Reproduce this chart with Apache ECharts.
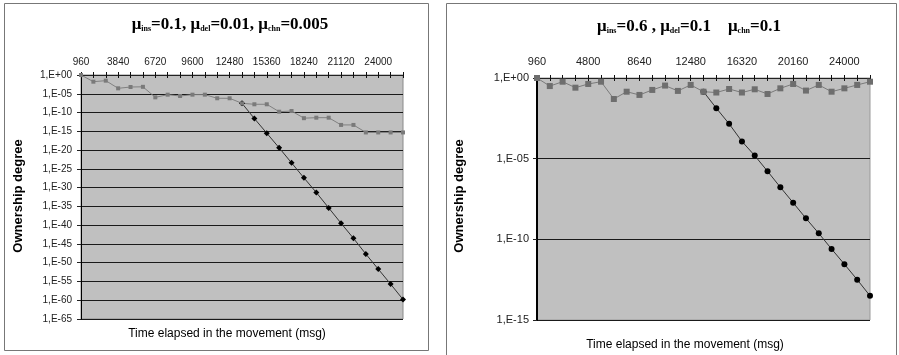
<!DOCTYPE html>
<html>
<head>
<meta charset="utf-8">
<script src="https://cdn.jsdelivr.net/npm/echarts@6/dist/echarts.min.js"></script>
<style>
html,body{margin:0;padding:0;background:#fff;}
#c{width:899px;height:355px;}
</style>
</head>
<body>
<div id="c"></div>
<script>
// Time categories (msg)
const categories = [960,1920,2880,3840,4800,5760,6720,7680,8640,9600,10560,11520,12480,13440,14400,15360,16320,17280,18240,19200,20160,21120,22080,23040,24000,24960,25920];

// Left panel: ownership degree as decimal exponent (value = 10^x), plotted on a decade axis
const leftGrayLog = [0,-1.78,-1.51,-3.55,-3.2,-3.15,-5.95,-5.24,-5.6,-5.24,-5.24,-6.2,-6.2,-7.55,-7.8,-7.8,-9.78,-9.59,-11.5,-11.37,-11.37,-13.3,-13.3,-15.3,-15.3,-15.3,-15.3];
const leftBlackLog = [null,null,null,null,null,null,null,null,null,null,null,null,null,-7.55,-11.6,-15.5,-19.4,-23.4,-27.4,-31.3,-35.4,-39.5,-43.5,-47.7,-51.7,-55.7,-59.8];

// Right panel: ownership degree as decimal exponent
const rightGrayLog = [0,-0.5,-0.23,-0.6,-0.37,-0.23,-1.3,-0.85,-1.05,-0.74,-0.47,-0.8,-0.43,-0.85,-0.9,-0.68,-0.9,-0.7,-0.99,-0.64,-0.37,-0.78,-0.43,-0.85,-0.64,-0.43,-0.23];
const rightBlackLog = [null,null,null,null,null,null,null,null,null,null,null,null,null,-0.85,-1.87,-2.84,-3.93,-4.81,-5.78,-6.77,-7.73,-8.7,-9.63,-10.6,-11.54,-12.5,-13.5];

const leftTitle = '{m|μ}{s|ins}{m|=0.1, μ}{s|del}{m|=0.01, μ}{s|chn}{m|=0.005}';
const rightTitle = '{m|μ}{s|ins}{m|=0.6 , μ}{s|del}{m|=0.1    μ}{s|chn}{m|=0.1}';
const yName = 'Ownership degree';
const xName = 'Time elapsed in the movement (msg)';

const fmt = v => {
  const e = Math.round(v);
  return '1,E' + (e < 0 ? '-' : '+') + String(Math.abs(e)).padStart(2, '0');
};
const sans = 'Liberation Sans, Arial, sans-serif';
const serif = 'Liberation Serif, Times New Roman, serif';
const titleRich = {
  m: {fontFamily: serif, fontSize: 17, color: '#000'},
  s: {fontFamily: serif, fontSize: 8, color: '#000', verticalAlign: 'bottom', lineHeight: 13}
};

function xAxes(gridIndex, labelInterval, margin, fontSize) {
  return [{
    type: 'category', gridIndex: gridIndex, position: 'top', boundaryGap: false,
    data: categories,
    axisLine: {lineStyle: {color: '#222', width: 1}},
    axisTick: {show: true, interval: 0, length: 3, inside: false, lineStyle: {color: '#111'}},
    axisLabel: {interval: labelInterval, fontFamily: sans, fontSize: fontSize, color: '#222', margin: margin},
    splitLine: {show: false}
  }, {
    type: 'category', gridIndex: gridIndex, position: 'top', boundaryGap: false,
    data: categories,
    axisLine: {show: false},
    axisTick: {show: true, interval: 0, length: 3, inside: true, lineStyle: {color: '#111'}},
    axisLabel: {show: false},
    splitLine: {show: false}
  }];
}
function yAxis(gridIndex, minV, axisW, margin, fontSize) {
  return {
    type: 'value', gridIndex: gridIndex, min: minV, max: 0, interval: 5,
    axisLine: {show: true, onZero: false, lineStyle: {color: '#000', width: axisW}},
    axisTick: {show: true, length: 4, lineStyle: {color: '#222'}},
    axisLabel: {formatter: fmt, fontFamily: sans, fontSize: fontSize, color: '#222', margin: margin,
                showMinLabel: true, showMaxLabel: true, hideOverlap: false},
    splitLine: {show: true, lineStyle: {color: '#1a1a1a', width: 1.2}}
  };
}
const gridBase = {show: true, backgroundColor: '#c0c0c0', containLabel: false, outerBoundsMode: 'none'};

const chart = echarts.init(document.getElementById('c'), null, {renderer: 'canvas'});
chart.setOption({
  animation: false,
  backgroundColor: '#fff',
  title: [
    {text: leftTitle, left: 225, top: 11, textAlign: 'center', textStyle: {rich: titleRich}},
    {text: rightTitle, left: 684, top: 13, textAlign: 'center', textStyle: {rich: titleRich}}
  ],
  grid: [
    Object.assign({left: 81, top: 75, width: 322, height: 244, borderColor: '#8a8a8a', borderWidth: 1}, gridBase),
    Object.assign({left: 537, top: 78, width: 333, height: 242, borderColor: '#9a9a9a', borderWidth: 1}, gridBase)
  ],
  xAxis: [].concat(xAxes(0, 2, 8, 10), xAxes(1, 3, 11, 11)),
  yAxis: [yAxis(0, -65, 1, 9, 10), yAxis(1, -15, 2, 8, 11)],
  graphic: [
    {type: 'rect', shape: {x: 4.5, y: 3.5, width: 424, height: 347}, style: {fill: 'none', stroke: '#777', lineWidth: 1}, silent: true, z: -1},
    {type: 'rect', shape: {x: 446.5, y: 3.5, width: 450, height: 360}, style: {fill: 'none', stroke: '#777', lineWidth: 1}, silent: true, z: -1},
    {type: 'text', x: 18, y: 196, rotation: Math.PI / 2, style: {text: yName, font: 'bold 13px ' + sans, fill: '#000', align: 'center', verticalAlign: 'middle'}},
    {type: 'text', x: 459, y: 196, rotation: Math.PI / 2, style: {text: yName, font: 'bold 13px ' + sans, fill: '#000', align: 'center', verticalAlign: 'middle'}},
    {type: 'text', x: 227, y: 334, style: {text: xName, font: '12px ' + sans, fill: '#000', align: 'center', verticalAlign: 'middle'}},
    {type: 'text', x: 685, y: 345, style: {text: xName, font: '12px ' + sans, fill: '#000', align: 'center', verticalAlign: 'middle'}}
  ],
  series: [
    {type: 'line', xAxisIndex: 0, yAxisIndex: 0, data: leftBlackLog, symbol: 'diamond', symbolSize: 6,
     itemStyle: {color: '#000'}, lineStyle: {color: '#333', width: 1}},
    {type: 'line', xAxisIndex: 0, yAxisIndex: 0, data: leftGrayLog, symbol: 'rect', symbolSize: 4,
     itemStyle: {color: '#7a7a7a'}, lineStyle: {color: '#808080', width: 1}},
    {type: 'line', xAxisIndex: 2, yAxisIndex: 1, data: rightBlackLog, symbol: 'circle', symbolSize: 6,
     itemStyle: {color: '#000'}, lineStyle: {color: '#333', width: 1}},
    {type: 'line', xAxisIndex: 2, yAxisIndex: 1, data: rightGrayLog, symbol: 'rect', symbolSize: 6,
     itemStyle: {color: '#6e6e6e'}, lineStyle: {color: '#7a7a7a', width: 1}}
  ]
});
</script>
</body>
</html>
